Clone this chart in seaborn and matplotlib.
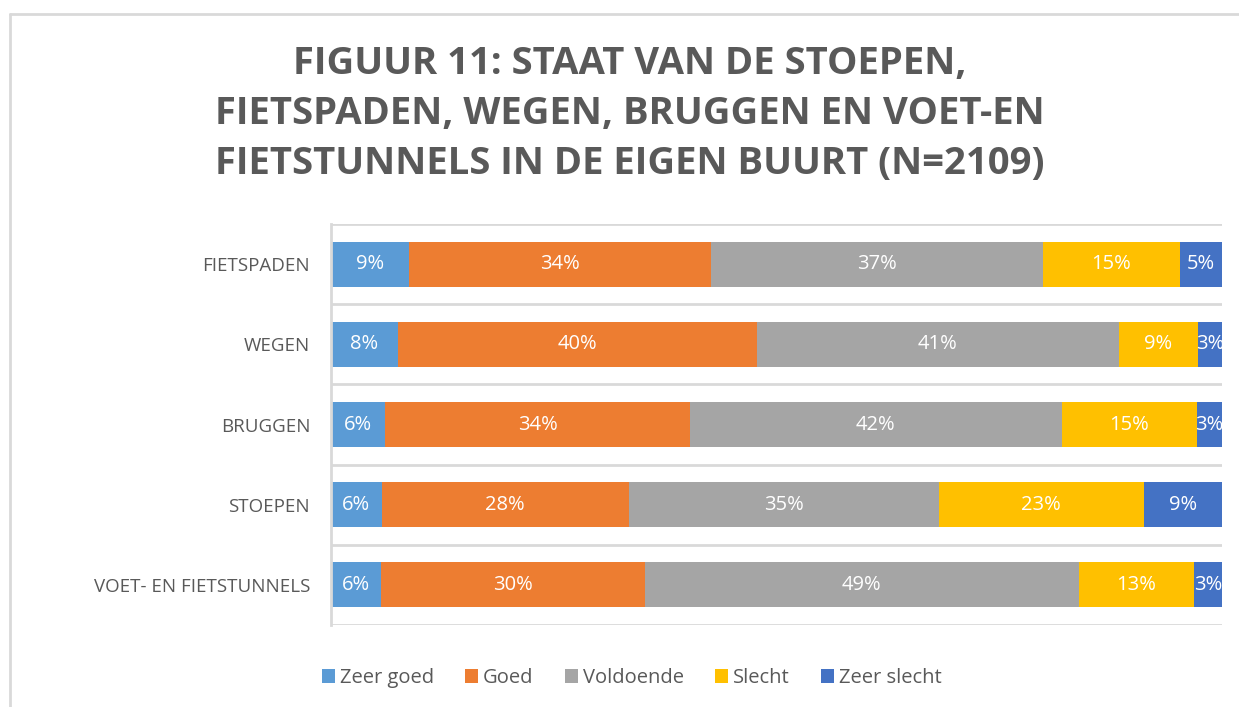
"""Staat van de stoepen, fietspaden, wegen, bruggen en tunnels (100% stacked bars)."""
import matplotlib

matplotlib.use("Agg")
import matplotlib.pyplot as plt
import numpy as np
import pandas as pd
import seaborn as sns
from matplotlib.lines import Line2D
from matplotlib.patches import Patch

categories = ["FIETSPADEN", "WEGEN", "BRUGGEN", "STOEPEN", "VOET- EN FIETSTUNNELS"]
levels = ["Zeer goed", "Goed", "Voldoende", "Slecht", "Zeer slecht"]
zeer_goed = [8.8, 7.5, 6.1, 5.7, 5.6]
goed = [33.8, 40.3, 34.2, 27.7, 29.6]
voldoende = [37.3, 40.6, 41.7, 34.8, 48.7]
slecht = [15.4, 8.9, 15.2, 23.0, 13.0]
zeer_slecht = [4.7, 2.7, 2.8, 8.8, 3.1]

colors = ["#5B9BD5", "#ED7D31", "#A5A5A5", "#FFC000", "#4472C4"]
TEXT = "#595959"
GRID = "#D9D9D9"

sns.set_theme(style="white")
plt.rcParams["font.family"] = ["Open Sans", "DejaVu Sans"]

df = pd.DataFrame(
    {"category": categories, "Zeer goed": zeer_goed, "Goed": goed,
     "Voldoende": voldoende, "Slecht": slecht, "Zeer slecht": zeer_slecht}
)
cum = df[levels].cumsum(axis=1)
cum["category"] = df["category"]

fig = plt.figure(figsize=(12.39, 7.07), dpi=100)
ax = fig.add_axes([331 / 1239, 82 / 707, 891 / 1239, 401 / 707])

# draw cumulative bars back to front so each segment shows its own colour
for level, color in reversed(list(zip(levels, colors))):
    sns.barplot(data=cum, x=level, y="category", order=categories, color=color,
                width=0.56, orient="h", saturation=1, edgecolor="none", ax=ax)

# segment labels
for i, cat in enumerate(categories):
    left = 0.0
    for level in levels:
        val = df.loc[i, level]
        ax.text(left + val / 2, i, f"{val:.0f}%", ha="center", va="center",
                color="white", fontsize=14.5, clip_on=True)
        left += val

ax.set_xlim(0, 100)
ax.set_ylim(len(categories) - 0.5, -0.5)
ax.set_xlabel("")
ax.set_ylabel("")
ax.set_xticks([])
ax.set_yticks(np.arange(-0.5, len(categories)), minor=True)
ax.grid(axis="y", which="minor", color=GRID, linewidth=2)
ax.tick_params(axis="y", which="both", length=0, pad=15, labelsize=13.5, labelcolor=TEXT)
for spine in ["top", "right", "bottom"]:
    ax.spines[spine].set_visible(False)
ax.spines["left"].set_color(GRID)
ax.spines["left"].set_linewidth(2)
ax.set_axisbelow(True)

fig.text(0.508, 1 - 114 / 707,
         "FIGUUR 11: STAAT VAN DE STOEPEN,\nFIETSPADEN, WEGEN, BRUGGEN EN VOET-EN\nFIETSTUNNELS IN DE EIGEN BUURT (N=2109)",
         ha="center", va="center", fontsize=27.5, fontweight="bold", color=TEXT,
         linespacing=1.42)

handles = [Patch(facecolor=c, edgecolor="none") for c in colors]
fig.legend(handles, levels, loc="center", bbox_to_anchor=(0.51, 1 - 678 / 707),
           ncol=5, frameon=False, fontsize=14.5, labelcolor=TEXT,
           handlelength=0.65, handleheight=0.65, handletextpad=0.25, columnspacing=1.55)

# outer chart frame (cropped at right and bottom)
fig.add_artist(Line2D([10 / 1239, 10 / 1239], [0, 1 - 14 / 707], transform=fig.transFigure,
                      color=GRID, linewidth=2))
fig.add_artist(Line2D([10 / 1239, 1], [1 - 14 / 707, 1 - 14 / 707], transform=fig.transFigure,
                      color=GRID, linewidth=2))

fig.savefig("out.png", dpi=100, facecolor="white")
